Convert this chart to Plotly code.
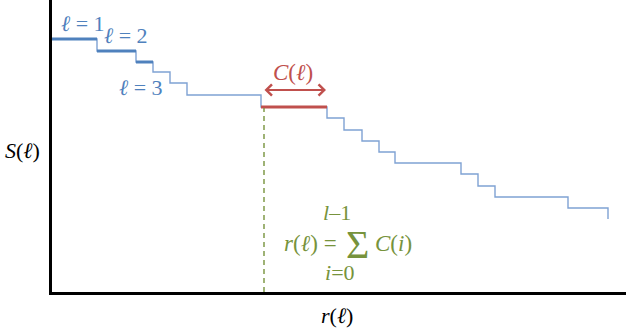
import plotly.graph_objects as go

# step widths C(l) and levels S(l) (chart units)
C = [45, 39, 17, 17, 17, 74, 66, 17, 18, 17, 16, 66, 17, 17, 73, 40]
S = [253, 241, 230, 220, 209, 197, 185, 174, 162, 151, 140, 129, 118, 106, 95, 84, 73]
thick_blue_steps = [0, 1, 2]
highlight_step = 6

# cumulative r(l)
r = [0]
for c in C:
    r.append(r[-1] + c)

SERIF = "Liberation Serif"
BLUE = "#4f81bd"
THIN = "#7fa2d3"
RED = "#c0504d"
GREEN = "#77933c"

fig = go.Figure()

# full staircase (thin)
xs, ys = [], []
for i in range(len(C)):
    xs += [r[i], r[i + 1]]
    ys += [S[i], S[i]]
xs.append(r[-1])
ys.append(S[-1])
fig.add_trace(go.Scatter(x=xs, y=ys, mode="lines", line=dict(color=THIN, width=1.4),
                         hoverinfo="skip", showlegend=False))

# thick blue first steps
for i in thick_blue_steps:
    fig.add_trace(go.Scatter(x=[r[i], r[i + 1]], y=[S[i], S[i]], mode="lines",
                             line=dict(color=BLUE, width=3), hoverinfo="skip", showlegend=False))

# highlighted red step
h = highlight_step
fig.add_trace(go.Scatter(x=[r[h], r[h + 1]], y=[S[h], S[h]], mode="lines",
                         line=dict(color=RED, width=3), hoverinfo="skip", showlegend=False))

# dashed green r(l) marker
fig.add_trace(go.Scatter(x=[r[h] + 3, r[h] + 3], y=[0, S[h] - 1], mode="lines",
                         line=dict(color=GREEN, width=1.4, dash="5px,4px"),
                         hoverinfo="skip", showlegend=False))

ann = []
def txt(x, y, t, color, size, xref="x", yref="y"):
    ann.append(dict(x=x, y=y, xref=xref, yref=yref, text=t, showarrow=False,
                    xanchor="center", yanchor="middle",
                    font=dict(family=SERIF, size=size, color=color)))

txt(31, 269, "<i>ℓ</i> = 1", BLUE, 22)
txt(74, 257, "<i>ℓ</i> = 2", BLUE, 22)
txt(89, 205, "<i>ℓ</i> = 3", BLUE, 22)
txt(241, 220, "<i>C</i>(<i>ℓ</i>)", RED, 23)
txt(-30 / 574, 142, "<i>S</i>(<i>ℓ</i>)", "black", 22, xref="paper")
txt(285, -23 / 292, "<i>r</i>(<i>ℓ</i>)", "black", 22, yref="paper")
txt(285, 80, "<i>l</i>–1", GREEN, 22)
txt(258, 49, "<i>r</i>(<i>ℓ</i>) =", GREEN, 23)
txt(305, 48, "Σ", GREEN, 40)
txt(341, 49, "<i>C</i>(<i>i</i>)", GREEN, 23)
txt(288, 20, "<i>i</i>=0", GREEN, 22)

# double-headed red arrow spanning C(l)
ann.append(dict(x=r[h + 1] - 1, y=202, ax=r[h] + 2, ay=202, xref="x", yref="y",
                axref="x", ayref="y", text="", showarrow=True, arrowhead=4,
                arrowside="end+start", arrowsize=1.1, arrowwidth=2, arrowcolor=RED,
                startarrowhead=4, startarrowsize=1.1))

fig.update_layout(
    width=626, height=329,
    margin=dict(l=52, r=0, t=0, b=37),
    paper_bgcolor="white", plot_bgcolor="white",
    annotations=ann,
    xaxis=dict(range=[0, 574], showline=True, linecolor="black", linewidth=3,
               showticklabels=False, showgrid=False, zeroline=False, ticks=""),
    yaxis=dict(range=[0, 292], showline=True, linecolor="black", linewidth=3,
               showticklabels=False, showgrid=False, zeroline=False, ticks=""),
)

fig.write_html("out.html", config={"displayModeBar": False},
               post_script="document.body.style.margin='0';")
